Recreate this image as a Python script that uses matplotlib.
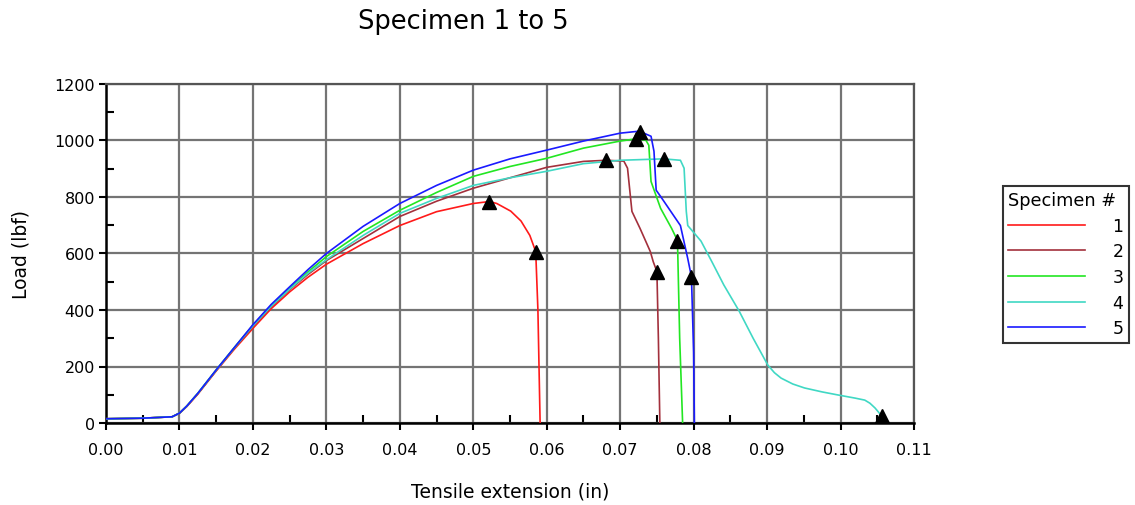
"""
Load vs tensile extension for specimens 1-5, with peak and break markers.
"""

import matplotlib.pyplot as plt
from matplotlib.ticker import MultipleLocator

# --- data ---
SPEC_LABELS = ["1", "2", "3", "4", "5"]
SPEC_COLORS = ["#ff1a1a", "#a3303c", "#22e622", "#40d8c4", "#1a1aff"]

x_spec1 = [0.000, 0.005, 0.009, 0.010, 0.011, 0.0125, 0.015, 0.0175, 0.020, 0.0225,
           0.025, 0.0275, 0.030, 0.035, 0.040, 0.045, 0.050, 0.0522, 0.0532, 0.0551,
           0.0565, 0.0577, 0.0585, 0.0588, 0.0591]
y_spec1 = [15, 17, 22, 34, 58, 102, 184, 262, 335, 405,
           464, 516, 562, 635, 699, 748, 777, 784, 777, 750,
           715, 664, 607, 400, 0]

x_spec2 = [0.000, 0.005, 0.009, 0.010, 0.011, 0.0125, 0.015, 0.0175, 0.020, 0.0225,
           0.025, 0.0275, 0.030, 0.035, 0.040, 0.045, 0.050, 0.055, 0.060, 0.065,
           0.0681, 0.0705, 0.0710, 0.0716, 0.0727, 0.0741, 0.0745, 0.0750, 0.0752, 0.0754]
y_spec2 = [15, 17, 22, 35, 60, 104, 186, 266, 342, 412,
           472, 526, 575, 653, 731, 785, 831, 868, 905, 926,
           930, 927, 902, 749, 689, 607, 571, 536, 300, 0]

x_spec3 = [0.000, 0.005, 0.009, 0.010, 0.011, 0.0125, 0.015, 0.0175, 0.020, 0.0225,
           0.025, 0.0275, 0.030, 0.035, 0.040, 0.045, 0.050, 0.055, 0.060, 0.065,
           0.070, 0.0722, 0.0735, 0.0739, 0.0742, 0.0755, 0.0770, 0.0778, 0.0781, 0.0785]
y_spec3 = [15, 17, 22, 35, 60, 105, 188, 268, 346, 416,
           476, 535, 589, 678, 753, 816, 873, 908, 937, 973,
           998, 1006, 1001, 983, 855, 760, 689, 646, 300, 0]

x_spec4 = [0.000, 0.005, 0.009, 0.010, 0.011, 0.0125, 0.015, 0.0175, 0.020, 0.0225,
           0.025, 0.0275, 0.030, 0.035, 0.040, 0.045, 0.050, 0.055, 0.060, 0.065,
           0.070, 0.0759, 0.0782, 0.0787, 0.0790, 0.0792, 0.0810, 0.0825, 0.0841, 0.0862,
           0.0881, 0.0901, 0.0910, 0.0919, 0.0935, 0.0951, 0.0975, 0.0997, 0.1020, 0.1033,
           0.1040, 0.1047, 0.1056, 0.1058]
y_spec4 = [15, 17, 22, 35, 60, 105, 187, 267, 344, 414,
           474, 530, 578, 664, 742, 795, 841, 868, 891, 918,
           930, 935, 930, 902, 749, 699, 644, 570, 489, 396,
           300, 205, 178, 159, 138, 124, 110, 99, 88, 81,
           70, 53, 25, 5]

x_spec5 = [0.000, 0.005, 0.009, 0.010, 0.011, 0.0125, 0.015, 0.0175, 0.020, 0.0225,
           0.025, 0.0275, 0.030, 0.035, 0.040, 0.045, 0.050, 0.055, 0.060, 0.065,
           0.070, 0.0726, 0.0742, 0.0746, 0.0749, 0.0755, 0.0782, 0.0792, 0.0797, 0.0800,
           0.0801]
y_spec5 = [15, 17, 22, 35, 60, 105, 188, 268, 348, 420,
           482, 543, 600, 696, 777, 841, 895, 935, 966, 998,
           1026, 1033, 1015, 962, 824, 802, 699, 582, 518, 250,
           0]

# triangle markers: peak load and break point per specimen
peak_x = [0.0522, 0.0681, 0.0722, 0.0759, 0.0727]
peak_y = [784, 930, 1005, 935, 1030]
break_x = [0.0585, 0.0750, 0.0778, 0.1056, 0.0797]
break_y = [607, 536, 646, 25, 518]

X_TICKS = [0.00, 0.01, 0.02, 0.03, 0.04, 0.05, 0.06, 0.07, 0.08, 0.09, 0.10, 0.11]
Y_TICKS = [0, 200, 400, 600, 800, 1000, 1200]

curves = [(x_spec1, y_spec1), (x_spec2, y_spec2), (x_spec3, y_spec3),
          (x_spec4, y_spec4), (x_spec5, y_spec5)]

plt.rcParams["font.family"] = ["DejaVu Sans"]

fig = plt.figure(figsize=(11.35, 5.06), dpi=100)
ax = fig.add_axes([106 / 1135, 82 / 506, 808 / 1135, 339 / 506])

for (xs, ys), lab, col in zip(curves, SPEC_LABELS, SPEC_COLORS):
    ax.plot(xs, ys, color=col, lw=1.2, label=lab, zorder=3)

ax.plot(peak_x, peak_y, ls="none", marker="^", ms=10, color="black", zorder=4)
ax.plot(break_x, break_y, ls="none", marker="^", ms=10, color="black", zorder=4)

ax.set_xlim(0, 0.11)
ax.set_ylim(0, 1200)
ax.set_xticks(X_TICKS)
ax.set_xticklabels([f"{t:.2f}" for t in X_TICKS])
ax.set_yticks(Y_TICKS)
ax.xaxis.set_minor_locator(MultipleLocator(0.005))
ax.yaxis.set_minor_locator(MultipleLocator(100))

ax.grid(True, which="major", color="#747474", lw=1.6, zorder=1)
ax.set_axisbelow(True)
ax.tick_params(which="major", direction="out", length=5, width=1.5, labelsize=11.5,
               colors="black")
ax.tick_params(axis="x", which="major", pad=9)
ax.tick_params(axis="y", which="major", pad=3)
ax.tick_params(which="minor", direction="in", length=6, width=1.5)

for side in ("left", "bottom"):
    ax.spines[side].set_linewidth(1.8)
    ax.spines[side].set_color("black")
for side in ("top", "right"):
    ax.spines[side].set_linewidth(1.6)
    ax.spines[side].set_color("#555555")

ax.set_xlabel("Tensile extension (in)", fontsize=13.5, labelpad=17)
ax.set_ylabel("Load (lbf)", fontsize=13.5, labelpad=17)

fig.text(463 / 1135, 1 - 22 / 506, "Specimen 1 to 5", fontsize=18.5,
         ha="center", va="center")

leg = fig.legend(loc="upper left", bbox_to_anchor=(1003 / 1135, 1 - 187 / 506),
                 title="Specimen #", fontsize=12.5, title_fontsize=12.8,
                 frameon=True, fancybox=False, edgecolor="black",
                 handlelength=4.4, handletextpad=1.6, labelspacing=0.44,
                 borderpad=0.3, borderaxespad=0)
leg.get_frame().set_linewidth(1.5)
leg._legend_box.align = "left"

fig.savefig("out.png", dpi=100)
